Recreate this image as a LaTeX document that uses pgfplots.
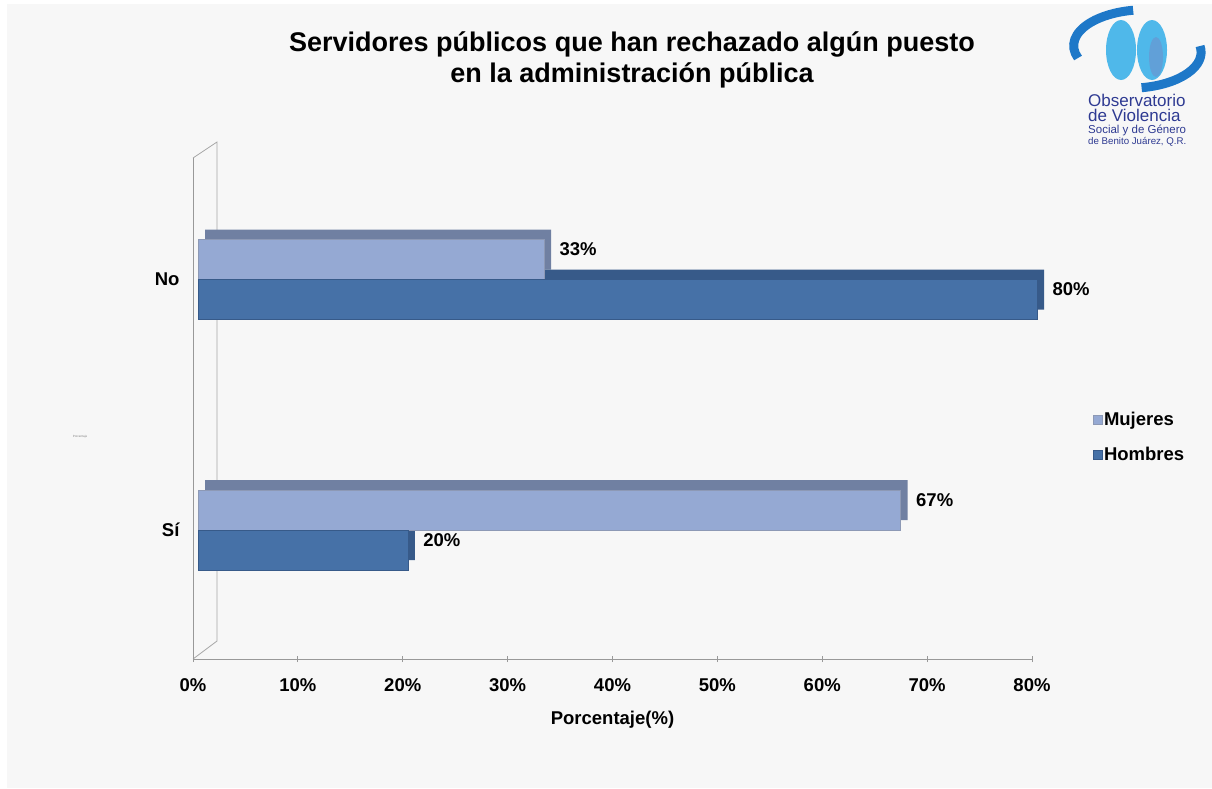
\documentclass[border=0pt]{standalone}
\usepackage{pgfplots}
\pgfplotsset{compat=1.18}
\usepackage{fontspec}
\setmainfont{Liberation Sans}

\definecolor{mujF}{HTML}{95A9D3}
\definecolor{mujT}{HTML}{7080A2}
\definecolor{homF}{HTML}{4671A7}
\definecolor{homT}{HTML}{375A89}
\definecolor{bg}{HTML}{F7F7F7}
\definecolor{logo}{HTML}{2E3A92}
\definecolor{logoA}{HTML}{1E78C8}
\definecolor{logoB}{HTML}{4FB8EA}

\newcommand{\lbl}{\bfseries\fontsize{18.5}{22}\selectfont}

\begin{document}
\begin{tikzpicture}
% fondo
\fill[white] (0,0) rectangle (1212pt,-788pt);
\fill[bg] (7pt,-4pt) rectangle (1212pt,-788pt);

% titulo
\node[align=center, font=\bfseries\fontsize{27}{31}\selectfont] at (632pt,-60pt)
  {Servidores públicos que han rechazado algún puesto\\en la administración pública};

% logo
\draw[logoA, line width=9pt] (1078pt,-58pt) arc[start angle=200, end angle=100, x radius=72pt, y radius=36pt];
\draw[logoA, line width=9pt] (1200pt,-46pt) arc[start angle=10, end angle=-80, x radius=72pt, y radius=36pt];
\fill[logoB] (1121pt,-50pt) ellipse[x radius=15pt, y radius=30pt];
\fill[logoB] (1152pt,-50pt) ellipse[x radius=15pt, y radius=30pt];
\fill[logoA!70] (1156pt,-57pt) ellipse[x radius=7pt, y radius=20pt];
\node[logo, anchor=west, inner sep=0pt, font=\fontsize{17}{17}\selectfont] at (1088pt,-100pt) {Observatorio};
\node[logo, anchor=west, inner sep=0pt, font=\fontsize{17}{17}\selectfont] at (1088pt,-115pt) {de Violencia};
\node[logo, anchor=west, inner sep=0pt, font=\fontsize{11.5}{12}\selectfont] at (1088pt,-130pt) {Social y de Género};
\node[logo, anchor=west, inner sep=0pt, font=\fontsize{9.7}{10}\selectfont] at (1088pt,-142pt) {de Benito Juárez, Q.R.};

% rotulo diminuto
\node[gray, font=\fontsize{3}{3}\selectfont] at (80pt,-437pt) {Porcentaje};

% pared del fondo
\draw[gray!70, line width=0.8pt] (193pt,-158pt) -- (217pt,-142pt) -- (217pt,-641pt) -- (193pt,-659pt);

\begin{axis}[
    at={(193pt,-659pt)}, anchor=south west,
    width=839pt, height=501pt, scale only axis,
    xmin=0, xmax=80,
    ymin=-0.515, ymax=1.485,
    axis x line*=bottom, axis y line*=left,
    axis line style={gray!80, line width=0.8pt},
    xtick={0,10,...,80},
    xticklabel={\pgfmathprintnumber{\tick}\%},
    xticklabel style={font=\lbl, yshift=-13pt},
    /pgf/number format/assume math mode=true,
    major tick length=6pt, tick align=center,
    tick style={gray!80, line width=0.8pt},
    ytick={0,1}, yticklabels={Sí,No},
    yticklabel style={font=\lbl, xshift=-4pt},
    y tick style={draw=none},
    xlabel={Porcentaje(\%)},
    xlabel style={font=\lbl, yshift=-13pt},
    clip=false,
    xbar, bar width=40pt,
    legend cell align=left,
    legend style={at={(1.072,0.497)}, anchor=north west, draw=none, fill=none,
                  font=\lbl, row sep=16pt, inner sep=0pt,
                  /tikz/every even column/.append style={column sep=2pt}},
    legend image code/.code={\fill[#1] (0pt,-4.5pt) rectangle (9pt,4.5pt);},
]
% caras superiores (profundidad)
\addplot[fill=mujT, draw=none, bar shift=20pt, xshift=12pt, yshift=10pt, forget plot]
  coordinates {(67,0) (33,1)};
\addplot[fill=homT, draw=none, bar shift=-20pt, xshift=12pt, yshift=10pt, forget plot]
  coordinates {(20,0) (80,1)};
% caras frontales
\addplot[fill=mujF, draw=mujT!80, bar shift=20pt, xshift=5pt,
  nodes near coords={\pgfmathprintnumber{\pgfplotspointmeta}\%},
  nodes near coords style={anchor=west, xshift=12pt, yshift=10pt, font=\lbl, black}]
  coordinates {(67,0) (33,1)};
\addlegendentry{Mujeres}
\addplot[fill=homF, draw=homT, bar shift=-20pt, xshift=5pt,
  nodes near coords={\pgfmathprintnumber{\pgfplotspointmeta}\%},
  nodes near coords style={anchor=west, xshift=12pt, yshift=10pt, font=\lbl, black}]
  coordinates {(20,0) (80,1)};
\addlegendentry{Hombres}
\end{axis}
\end{tikzpicture}
\end{document}
